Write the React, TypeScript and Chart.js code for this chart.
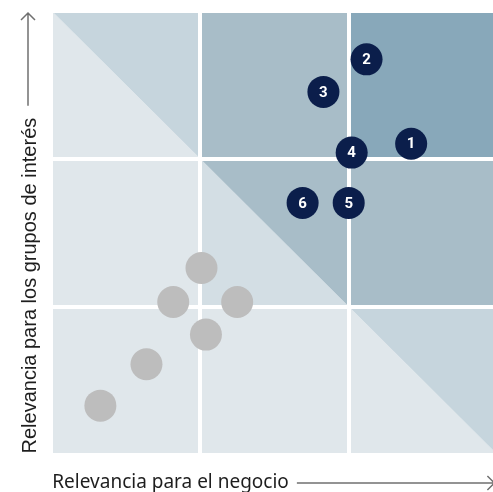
import { useEffect, useRef } from "react";
import { Chart, registerables } from "chart.js";

Chart.register(...registerables);

// Numbered topics (dark circles)
const topicLabels = ["1", "2", "3", "4", "5", "6"];
const topicX = [2.42, 2.12, 1.83, 2.02, 2.0, 1.69];
const topicY = [2.1, 2.67, 2.45, 2.04, 1.7, 1.7];

// Other topics (grey circles)
const otherX = [1.01, 0.82, 1.25, 1.04, 0.64, 0.33];
const otherY = [1.26, 1.03, 1.03, 0.81, 0.61, 0.33];

// Matrix cells (column, row from bottom) and their two triangle colours
const cellCol = [0, 1, 2, 0, 1, 2, 0, 1, 2];
const cellRow = [0, 0, 0, 1, 1, 1, 2, 2, 2];
const cellLower = ["#e0e7eb", "#e0e7eb", "#e0e7eb", "#e0e7eb", "#d3dee4", "#a8bdc8", "#e0e7eb", "#a8bdc8", "#88a8ba"];
const cellUpper = ["#e0e7eb", "#e0e7eb", "#c6d5dd", "#e0e7eb", "#a8bdc8", "#a8bdc8", "#c6d5dd", "#a8bdc8", "#88a8ba"];

const xTitle = "Relevancia para el negocio";
const yTitle = "Relevancia para los grupos de interés";

const matrixPlugin = {
  id: "matrixCells",
  beforeDraw(chart: any) {
    const { ctx, scales } = chart;
    const xs = scales.x;
    const ys = scales.y;
    ctx.save();
    for (let i = 0; i < cellCol.length; i++) {
      const x0 = xs.getPixelForValue(cellCol[i]);
      const x1 = xs.getPixelForValue(cellCol[i] + 1);
      const yb = ys.getPixelForValue(cellRow[i]);
      const yt = ys.getPixelForValue(cellRow[i] + 1);
      ctx.fillStyle = cellLower[i];
      ctx.beginPath();
      ctx.moveTo(x0, yt);
      ctx.lineTo(x0, yb);
      ctx.lineTo(x1, yb);
      ctx.closePath();
      ctx.fill();
      ctx.fillStyle = cellUpper[i];
      ctx.beginPath();
      ctx.moveTo(x0, yt);
      ctx.lineTo(x1, yt);
      ctx.lineTo(x1, yb);
      ctx.closePath();
      ctx.fill();
      if (cellLower[i] === cellUpper[i]) {
        ctx.fillRect(x0, yt, x1 - x0, yb - yt);
      }
    }
    ctx.restore();
  },
  afterDatasetsDraw(chart: any) {
    const { ctx } = chart;
    const meta = chart.getDatasetMeta(1);
    ctx.save();
    ctx.fillStyle = "#ffffff";
    ctx.font = "bold 15px Roboto";
    ctx.textAlign = "center";
    ctx.textBaseline = "middle";
    meta.data.forEach((pt: any, i: number) => {
      ctx.fillText(topicLabels[i], pt.x, pt.y + 1);
    });
    ctx.restore();
  },
  afterDraw(chart: any) {
    const { ctx, chartArea } = chart;
    ctx.save();
    ctx.fillStyle = "#1e1e1e";
    ctx.strokeStyle = "#707070";
    ctx.lineWidth = 1.5;
    // x title
    ctx.font = "19px 'Noto Sans'";
    ctx.textAlign = "left";
    ctx.textBaseline = "alphabetic";
    const tx = chartArea.left + 1;
    const ty = 488;
    ctx.fillText(xTitle, tx, ty);
    const wx = ctx.measureText(xTitle).width;
    const ly = 483;
    ctx.beginPath();
    ctx.moveTo(tx + wx + 8, ly);
    ctx.lineTo(chartArea.right - 3, ly);
    ctx.moveTo(chartArea.right - 10, ly - 7);
    ctx.lineTo(chartArea.right - 3, ly);
    ctx.lineTo(chartArea.right - 10, ly + 7);
    ctx.stroke();
    // y title
    ctx.font = "20px 'Liberation Sans'";
    ctx.translate(36, chartArea.bottom - 1);
    ctx.rotate(-Math.PI / 2);
    ctx.fillText(yTitle, 0, 0);
    const wy = ctx.measureText(yTitle).width;
    const top = chartArea.bottom - 1 - 13;
    const off = -8;
    ctx.beginPath();
    ctx.moveTo(wy + 12, off);
    ctx.lineTo(top, off);
    ctx.moveTo(top - 7, off - 7);
    ctx.lineTo(top, off);
    ctx.lineTo(top - 7, off + 7);
    ctx.stroke();
    ctx.restore();
  },
};

export default function App() {
  const ref = useRef<HTMLCanvasElement | null>(null);
  useEffect(() => {
    if (!ref.current) return;
    const chart = new Chart(ref.current, {
      type: "scatter",
      data: {
        datasets: [
          {
            data: otherX.map((x, i) => ({ x, y: otherY[i] })),
            backgroundColor: "#bdbdbd",
            borderWidth: 0,
            pointRadius: 16,
            pointHoverRadius: 16,
          },
          {
            data: topicX.map((x, i) => ({ x, y: topicY[i] })),
            backgroundColor: "#0b1e4b",
            borderWidth: 0,
            pointRadius: 16,
            pointHoverRadius: 16,
          },
        ],
      },
      options: {
        responsive: false,
        animation: false,
        events: [],
        layout: { autoPadding: false, padding: { left: 51.3, top: 10.5, right: 2.6, bottom: 37.5 } },
        plugins: { legend: { display: false }, tooltip: { enabled: false } },
        scales: {
          x: {
            type: "linear",
            min: 0,
            max: 3,
            ticks: { display: false, stepSize: 1 },
            grid: { color: "#ffffff", lineWidth: 4, drawTicks: false },
            border: { display: false },
          },
          y: {
            type: "linear",
            min: 0,
            max: 3,
            ticks: { display: false, stepSize: 1 },
            grid: { color: "#ffffff", lineWidth: 4, drawTicks: false },
            border: { display: false },
          },
        },
      },
      plugins: [matrixPlugin],
    });
    return () => chart.destroy();
  }, []);
  return (
    <div style={{ position: "absolute", left: 0, top: 0, width: 493, height: 492, overflow: "hidden", background: "#fff" }}>
      <canvas ref={ref} width={500} height={492} style={{ display: "block" }} />
    </div>
  );
}
